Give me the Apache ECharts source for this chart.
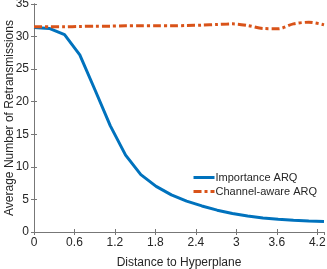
<!DOCTYPE html>
<html><head><meta charset="utf-8">
<script src="https://cdn.jsdelivr.net/npm/echarts@6/dist/echarts.min.js"></script>
<style>html,body{margin:0;padding:0;background:#fff}#c{width:327px;height:269px}</style>
</head><body><div id="c"></div>
<script>
const distances = [0, 0.226, 0.453, 0.679, 0.905, 1.132, 1.358, 1.584, 1.811, 2.037, 2.263, 2.489, 2.716, 2.942, 3.168, 3.395, 3.621, 3.847, 4.074, 4.3];
const importanceARQ = [31.4, 31.25, 30.3, 27.2, 21.8, 16.3, 11.8, 8.8, 7.0, 5.7, 4.75, 4.0, 3.35, 2.85, 2.45, 2.15, 1.95, 1.8, 1.7, 1.62];
const channelAwareARQ = [31.5, 31.5, 31.5, 31.55, 31.6, 31.6, 31.65, 31.65, 31.65, 31.65, 31.7, 31.75, 31.85, 31.95, 31.7, 31.25, 31.2, 31.95, 32.2, 31.8];
const seriesNames = ['Importance ARQ', 'Channel-aware ARQ'];
const xTitle = 'Distance to Hyperplane';
const yTitle = 'Average Number of Retransmissions';

const font = 'Liberation Sans';
const axisCol = '#777';
const txt = '#262626';
const chart = echarts.init(document.getElementById('c'));
const pair = (xs, ys) => xs.map((x, i) => [x, ys[i]]);
const baseX = {type: 'value', min: 0, max: 4.3, interval: 0.6,
  axisLine: {show: true, lineStyle: {color: axisCol, width: 1}},
  axisTick: {show: true, inside: true, length: 3, lineStyle: {color: axisCol}},
  splitLine: {show: false}};
const baseY = {type: 'value', min: 0, max: 35, interval: 5,
  axisLine: {show: true, lineStyle: {color: axisCol, width: 1}},
  axisTick: {show: true, inside: true, length: 3, lineStyle: {color: axisCol}},
  splitLine: {show: false}};
chart.setOption({
  animation: false,
  grid: {left: 34, right: 3, top: 4, bottom: 37, containLabel: false, outerBoundsMode: 'none'},
  xAxis: [
    Object.assign({}, baseX, {position: 'bottom', name: xTitle, nameLocation: 'middle', nameGap: 25, nameMoveOverlap: false,
      nameTextStyle: {fontFamily: font, fontSize: 12, color: txt},
      axisLabel: {fontFamily: font, fontSize: 12, color: txt, margin: 5, showMaxLabel: false}}),
    Object.assign({}, baseX, {position: 'top', axisLabel: {show: false}})
  ],
  yAxis: [
    Object.assign({}, baseY, {position: 'left', name: yTitle, nameLocation: 'middle', nameGap: 18, nameMoveOverlap: false,
      nameTextStyle: {fontFamily: font, fontSize: 12, color: txt},
      axisLabel: {fontFamily: font, fontSize: 12, color: txt, margin: 5}}),
    Object.assign({}, baseY, {position: 'right', axisLabel: {show: false}})
  ],
  legend: {
    right: 5, top: 167, orient: 'vertical', itemGap: 3, itemWidth: 21, itemHeight: 10,
    itemStyle: {opacity: 0},
    lineStyle: {width: 3},
    textStyle: {fontFamily: font, fontSize: 11, color: txt, padding: [0, 0, 0, -4]},
    data: seriesNames
  },
  series: [
    {name: seriesNames[0], type: 'line', symbol: 'none', data: pair(distances, importanceARQ),
     lineStyle: {color: '#0072BD', width: 3}, itemStyle: {color: '#0072BD'}},
    {name: seriesNames[1], type: 'line', symbol: 'none', data: pair(distances, channelAwareARQ), smooth: 0.3,
     lineStyle: {color: '#D95319', width: 3, type: [8, 3, 3, 3]}, itemStyle: {color: '#D95319'}}
  ]
});
</script></body></html>
